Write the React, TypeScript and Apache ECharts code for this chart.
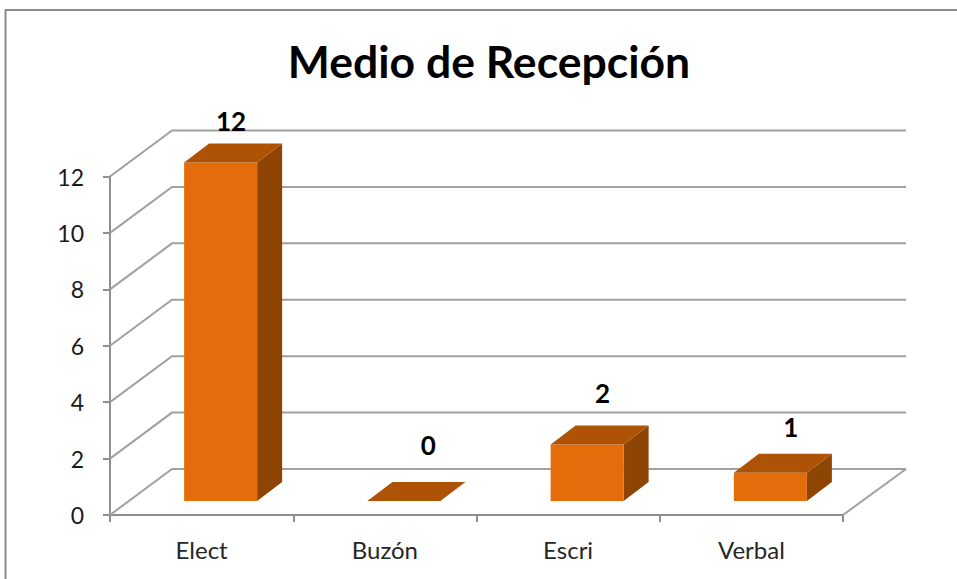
import React, { useEffect, useRef } from "react";
import * as echarts from "echarts";

const titleText = "Medio de Recepción";
const categories = ["Elect", "Buzón", "Escri", "Verbal"];
const values = [12, 0, 2, 1];
const yTicks = [0, 2, 4, 6, 8, 10, 12];
// per-bar nudge of the value label, in pixels [dx, dy] from the top of the bar
const labelNudges = [
  [-2, -23],
  [12, -37],
  [3, -33],
  [8, -27],
];

const FONT = "Lato, 'Noto Sans', sans-serif";
const FRONT = "#E46C0A";
const TOP = "#AE5206";
const SIDE = "#8E4504";
const GRID = "#a0a0a0";
const AXIS = "#8f8f8f";
const WALL_DX = 62;
const WALL_DY = -46;
const BAR_OFF_X = 19;
const BAR_OFF_Y = -14;
const BAR_W = 73;
const DEPTH_X = 25;
const DEPTH_Y = -19;

export default function App() {
  const ref = useRef<HTMLDivElement>(null);
  useEffect(() => {
    document.body.style.margin = "0";
    const chart = echarts.init(ref.current!, null, { renderer: "svg" });
    chart.setOption({
      animation: false,
      backgroundColor: "#fff",
      title: {
        text: titleText,
        left: 484,
        top: 33,
        textAlign: "center",
        textStyle: { fontFamily: FONT, fontSize: 44.5, fontWeight: "bold", color: "#000" },
      },
      graphic: [
        {
          type: "rect",
          z: -1,
          shape: { x: 5.5, y: 10, width: 980, height: 600 },
          style: { fill: "none", stroke: "#8c8c8c", lineWidth: 2 },
        },
      ],
      grid: { left: 110, right: 114, top: 176.5, bottom: 64 },
      xAxis: {
        type: "category",
        data: categories,
        axisLine: { lineStyle: { color: AXIS, width: 2 } },
        axisTick: { show: true, length: 7, lineStyle: { color: AXIS, width: 2 } },
        axisLabel: { margin: 22, fontFamily: FONT, fontSize: 24, color: "#262626" },
        splitLine: { show: false },
      },
      yAxis: {
        type: "value",
        min: 0,
        max: 12,
        interval: 2,
        axisLine: { show: true, lineStyle: { color: AXIS, width: 2 } },
        axisTick: { show: true, length: 7, lineStyle: { color: AXIS, width: 2 } },
        axisLabel: { margin: 26, fontFamily: FONT, fontSize: 23, color: "#1a1a1a" },
        splitLine: { show: false },
      },
      series: [
        {
          type: "custom",
          z: 1,
          silent: true,
          encode: { x: 0, y: 1 },
          data: yTicks.map((t) => [0, t]),
          renderItem: (params: any, api: any) => {
            const y = api.coord([0, api.value(1)])[1];
            const cs = params.coordSys;
            const x0 = cs.x;
            const x1 = cs.x + cs.width;
            const style = { stroke: GRID, lineWidth: 2, fill: "none" };
            const children: any[] = [
              {
                type: "polyline",
                shape: {
                  points: [
                    [x0, y],
                    [x0 + WALL_DX, y + WALL_DY],
                    [x1 + WALL_DX + 1, y + WALL_DY],
                  ],
                },
                style,
              },
            ];
            if (api.value(1) === 0) {
              children.push({
                type: "line",
                shape: { x1: x1, y1: y, x2: x1 + WALL_DX + 1, y2: y + WALL_DY },
                style,
              });
            }
            return { type: "group", children };
          },
        },
        {
          type: "custom",
          z: 3,
          encode: { x: 0, y: 1 },
          data: values.map((v, i) => [i, v]),
          renderItem: (params: any, api: any) => {
            const i = api.value(0);
            const v = api.value(1);
            const top = api.coord([i, v]);
            const bottom = api.coord([i, 0]);
            const x0 = top[0] + BAR_OFF_X - BAR_W / 2;
            const x1 = x0 + BAR_W;
            const yT = top[1] + BAR_OFF_Y;
            const yB = bottom[1] + BAR_OFF_Y;
            const nudge = labelNudges[params.dataIndex];
            const children: any[] = [];
            if (v > 0) {
              children.push({
                type: "polygon",
                shape: {
                  points: [
                    [x1, yT],
                    [x1 + DEPTH_X, yT + DEPTH_Y],
                    [x1 + DEPTH_X, yB + DEPTH_Y],
                    [x1, yB],
                  ],
                },
                style: { fill: SIDE },
              });
              children.push({
                type: "rect",
                shape: { x: x0, y: yT, width: BAR_W, height: yB - yT },
                style: { fill: FRONT },
              });
            }
            children.push({
              type: "polygon",
              shape: {
                points: [
                  [x0, yT],
                  [x0 + DEPTH_X, yT + DEPTH_Y],
                  [x1 + DEPTH_X, yT + DEPTH_Y],
                  [x1, yT],
                ],
              },
              style: { fill: TOP },
            });
            children.push({
              type: "text",
              style: {
                text: String(v),
                x: x0 + BAR_W / 2 + DEPTH_X / 2 + nudge[0],
                y: yT + DEPTH_Y + nudge[1],
                align: "center",
                verticalAlign: "middle",
                fill: "#000",
                font: `bold 26px ${FONT}`,
              },
            });
            return { type: "group", children };
          },
        },
      ],
    });
    return () => chart.dispose();
  }, []);
  return (
    <div
      ref={ref}
      style={{ position: "absolute", left: 0, top: 0, width: 957, height: 579, overflow: "hidden" }}
    />
  );
}
